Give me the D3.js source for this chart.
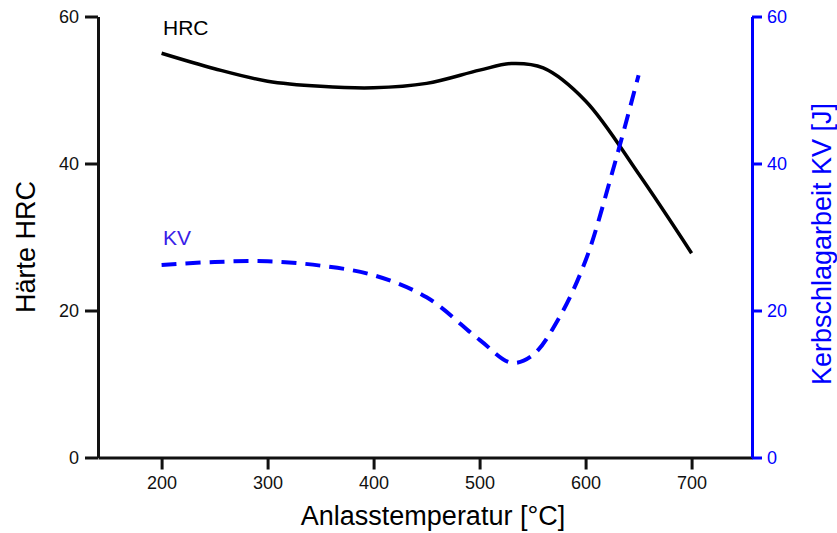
<!DOCTYPE html>
<html>
<head>
<meta charset="utf-8">
<script src="https://cdn.jsdelivr.net/npm/d3@7"></script>
<style>
  body { margin: 0; background: #fff; }
  text { font-family: Arial, "Liberation Sans", sans-serif; }
</style>
</head>
<body>
<div id="plot"></div>
<script>
// temperatures [°C] and readings
const hrcTemp = [200, 250, 300, 350, 400, 450, 500, 530, 560, 600, 650, 700];
const hrcValues = [55.0, 52.9, 51.2, 50.5, 50.3, 50.9, 52.7, 53.6, 53.0, 48.5, 38.6, 27.8];

const kvTemp = [200, 250, 300, 350, 400, 450, 500, 530, 550, 575, 600, 625, 650];
const kvValues = [26.2, 26.6, 26.7, 26.1, 24.8, 21.8, 16.0, 12.9, 13.9, 19.0, 26.8, 38.7, 52.0];

const xTicks = [200, 300, 400, 500, 600, 700];
const yTicks = [0, 20, 40, 60];

const w = 837;
const h = 533;

const xScale = d3.scaleLinear()
                 .domain([140, 757])
                 .range([98, 752]);
const yScale = d3.scaleLinear()
                 .domain([0, 60])
                 .range([457.5, 16.5]);
const y2Scale = d3.scaleLinear()
                  .domain([0, 60])
                  .range([457.5, 16.5]);

const svg = d3.select("#plot")
              .append("svg")
              .attr("width", w)
              .attr("height", h);

const xAxis = d3.axisBottom(xScale).tickValues(xTicks).tickSize(12).tickPadding(7).tickSizeOuter(0);
const yAxis = d3.axisLeft(yScale).tickValues(yTicks).tickSize(13).tickPadding(6).tickSizeOuter(0);
const y2Axis = d3.axisRight(y2Scale).tickValues(yTicks).tickSize(10).tickPadding(5).tickSizeOuter(0);

function styleAxis(g, color) {
  g.select(".domain").attr("stroke", color).attr("stroke-width", 3);
  g.selectAll(".tick line").attr("stroke", color).attr("stroke-width", 3);
  g.selectAll(".tick text").attr("fill", color).style("font-size", "18px");
}

svg.append("g")
   .attr("transform", "translate(0," + yScale(0) + ")")
   .call(xAxis)
   .call(g => styleAxis(g, "#111"));

svg.append("g")
   .attr("transform", "translate(" + xScale(140) + ",0)")
   .call(yAxis)
   .call(g => styleAxis(g, "#111"));

svg.append("g")
   .attr("transform", "translate(" + xScale(757) + ",0)")
   .call(y2Axis)
   .call(g => styleAxis(g, "#0000ff"));

//-------------curves------------------------
const hrcLine = d3.line()
                  .x((d, i) => xScale(hrcTemp[i]))
                  .y(d => yScale(d))
                  .curve(d3.curveCatmullRom.alpha(0.5));
const kvLine = d3.line()
                 .x((d, i) => xScale(kvTemp[i]))
                 .y(d => y2Scale(d))
                 .curve(d3.curveCatmullRom.alpha(0.5));

svg.append("path")
   .datum(hrcValues)
   .attr("d", hrcLine)
   .attr("fill", "none")
   .attr("stroke", "#000")
   .attr("stroke-width", 3.5);

svg.append("path")
   .datum(kvValues)
   .attr("d", kvLine)
   .attr("fill", "none")
   .attr("stroke", "#0000ff")
   .attr("stroke-width", 4)
   .attr("stroke-dasharray", "15,9");

//-------------labels------------------------
svg.append("text")
   .attr("x", 163)
   .attr("y", 35)
   .style("font-size", "21px")
   .attr("fill", "#000")
   .text("HRC");

svg.append("text")
   .attr("x", 163)
   .attr("y", 245)
   .style("font-size", "21px")
   .attr("fill", "#3a1ee8")
   .text("KV");

svg.append("text")
   .attr("x", 433)
   .attr("y", 525)
   .attr("text-anchor", "middle")
   .style("font-size", "27px")
   .attr("fill", "#000")
   .text("Anlasstemperatur [°C]");

svg.append("text")
   .attr("transform", "translate(35,247) rotate(-90)")
   .attr("text-anchor", "middle")
   .style("font-size", "27px")
   .attr("fill", "#000")
   .text("Härte HRC");

svg.append("text")
   .attr("transform", "translate(831,244) rotate(-90)")
   .attr("text-anchor", "middle")
   .style("font-size", "27px")
   .attr("fill", "#0000ff")
   .text("Kerbschlagarbeit KV [J]");
</script>
</body>
</html>
